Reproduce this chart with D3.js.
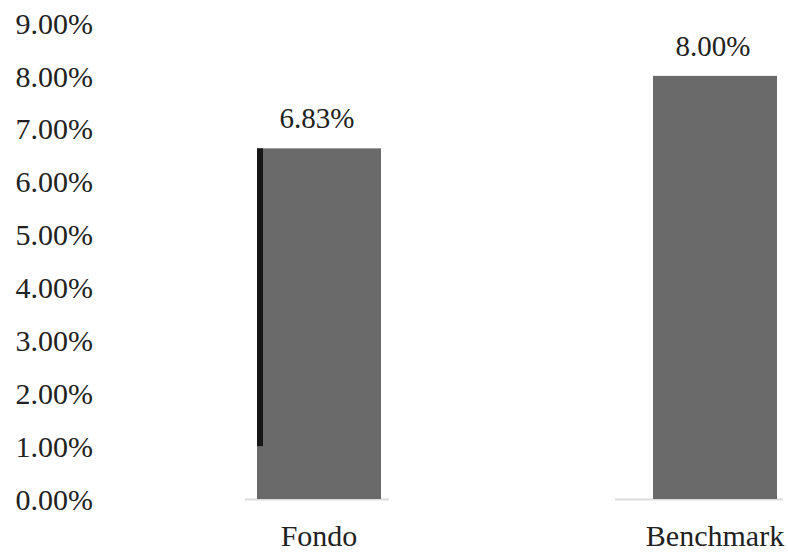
<!DOCTYPE html>
<html lang="es">
<head>
<meta charset="UTF-8">
<title>Fondo vs Benchmark</title>
<script src="https://cdn.jsdelivr.net/npm/d3@7"></script>
<style>
  body { margin: 0; background: #fff; }
  svg text { font-family: "Liberation Serif", "Times New Roman", serif; fill: #222; }
</style>
</head>
<body>
<svg width="788" height="552"></svg>
<script>
// data
var categories = ["Fondo", "Benchmark"];
var values = [6.63, 8.00];            // bar heights as drawn (percent)
var valueLabels = ["6.83%", "8.00%"]; // labels printed above the bars
var yTicks = [0, 1, 2, 3, 4, 5, 6, 7, 8, 9];
var stripeFrom = [1.0, null];         // dark edge on the left of the Fondo bar
var baseLeft = [74, 100];             // baseline reach left of bar centre
var baseRight = [70, 68];

var svg = d3.select("svg");

var x = d3.scalePoint().domain(categories).range([319, 715]);
var y = d3.scaleLinear().domain([0, 9]).range([499, 23]);
var barW = 124;

// y axis labels only, no line / ticks
var yAxis = svg.append("g")
    .attr("transform", "translate(93,0)")
    .call(d3.axisLeft(y).tickValues(yTicks).tickSize(0).tickPadding(0)
        .tickFormat(function(d) { return d3.format(".2f")(d) + "%"; }));
yAxis.select(".domain").remove();
yAxis.selectAll("text")
    .attr("font-size", 30)
    .attr("font-family", null)
    .attr("fill", null)
    .attr("dy", "0.34em");

// baseline segments under each bar
svg.selectAll(".base")
    .data(categories)
    .enter().append("line")
    .attr("class", "base")
    .attr("x1", function(d, i) { return x(d) - baseLeft[i]; })
    .attr("x2", function(d, i) { return x(d) + baseRight[i]; })
    .attr("y1", y(0) + 0.5)
    .attr("y2", y(0) + 0.5)
    .attr("stroke", "#dcdcdc")
    .attr("stroke-width", 2);

svg.selectAll(".bar")
    .data(values)
    .enter().append("rect")
    .attr("class", "bar")
    .attr("x", function(d, i) { return x(categories[i]) - barW / 2; })
    .attr("y", function(d) { return y(d); })
    .attr("width", barW)
    .attr("height", function(d) { return y(0) - y(d); })
    .attr("fill", "#6a6a6a");

svg.selectAll(".stripe")
    .data(values.map(function(v, i) { return { v: v, from: stripeFrom[i], c: categories[i] }; })
        .filter(function(d) { return d.from !== null; }))
    .enter().append("rect")
    .attr("class", "stripe")
    .attr("x", function(d) { return x(d.c) - barW / 2; })
    .attr("y", function(d) { return y(d.v); })
    .attr("width", 6)
    .attr("height", function(d) { return y(d.from) - y(d.v); })
    .attr("fill", "#161616");

svg.selectAll(".vlabel")
    .data(values)
    .enter().append("text")
    .attr("class", "vlabel")
    .attr("x", function(d, i) { return x(categories[i]) - 2; })
    .attr("y", function(d) { return y(d) - 20; })
    .attr("text-anchor", "middle")
    .attr("font-size", 29)
    .text(function(d, i) { return valueLabels[i]; });

svg.selectAll(".cat")
    .data(categories)
    .enter().append("text")
    .attr("class", "cat")
    .attr("x", function(d) { return x(d); })
    .attr("y", 546)
    .attr("text-anchor", "middle")
    .attr("font-size", 30)
    .text(function(d) { return d; });
</script>
</body>
</html>
